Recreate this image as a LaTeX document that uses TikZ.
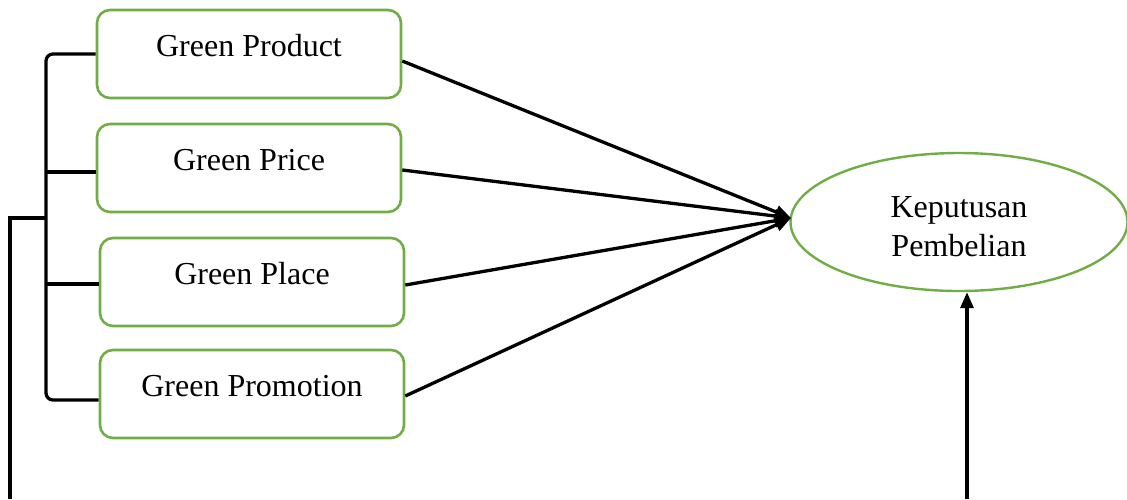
\documentclass[tikz,border=0pt]{standalone}
\usepackage{fontspec}
\setmainfont{Liberation Serif}
\usetikzlibrary{arrows.meta,calc,shapes.geometric}
\definecolor{boxgreen}{HTML}{70AD47}
\tikzset{
  varbox/.style={draw=boxgreen, line width=2.6pt, rounded corners=13pt, fill=white,
    minimum width=304pt, inner xsep=0pt, inner ysep=0pt,
    text height=46pt, text depth=42pt, font=\fontsize{32}{38}\selectfont},
  outcome/.style={ellipse, draw=boxgreen, line width=2.4pt, minimum width=337pt,
    minimum height=138pt, inner sep=0pt},
  outtext/.style={yshift=-5pt, align=center, inner sep=0pt, font=\fontsize{32}{39}\selectfont},
  link/.style={line width=3.3pt, black},
  arr/.style={link, -{Triangle[length=16pt,width=13pt]}}
}
\begin{document}
\begin{tikzpicture}[x=1pt,y=-1pt]
\useasboundingbox (0,0) rectangle (1127,499);
\node[varbox] (b1) at (249,54) {Green Product};
\node[varbox] (b2) at (249,168) {Green Price};
\node[varbox] (b3) at (252,282) {Green Place};
\node[varbox] (b4) at (252,394) {Green Promotion};
\node[outcome, label={[outtext]center:Keputusan\\Pembelian}] (kp) at (959,222) {};
\coordinate (tip) at (791,218);
\coordinate (mid) at (46,218);
\coordinate (lowL) at (10,499);
\coordinate (lowR) at (967,499);
% bracket
\draw[link, rounded corners=7pt] (b1.west) -- (46,54) -- (46,400) -- (b4.west |- 0,400);
\draw[link] (46,172) -- (b2.west |- 0,172);
\draw[link] (46,284) -- (b3.west |- 0,284);
\draw[link] (mid) -- (10,218) -- (lowL);
% arrows to outcome
\draw[arr] ($(b1.east)+(0,7)$) -- (tip);
\draw[arr] ($(b2.east)+(0,2)$) -- (tip);
\draw[arr] ($(b3.east)+(0,3)$) -- (tip);
\draw[arr] ($(b4.east)+(0,2)$) -- (tip);
\draw[arr] (lowR) -- (lowR |- kp.south);
\end{tikzpicture}
\end{document}
